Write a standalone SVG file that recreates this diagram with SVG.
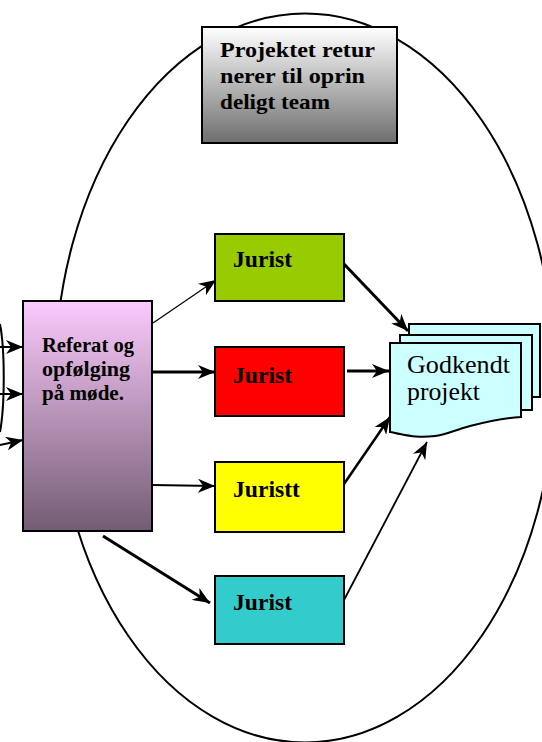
<svg xmlns="http://www.w3.org/2000/svg" width="542" height="742" viewBox="0 0 542 742">
<style>
.box{stroke:#000;stroke-width:2}
.t{font-family:"Liberation Serif","Times New Roman",serif;font-weight:bold;fill:#000}
.r{font-family:"Liberation Serif","Times New Roman",serif;fill:#000}
.c{fill:none;stroke:#000}
</style>
<defs>
<linearGradient id="gGray" x1="0" y1="0" x2="0" y2="1">
<stop offset="0" stop-color="#ffffff"/><stop offset="1" stop-color="#6e6e6e"/>
</linearGradient>
<linearGradient id="gPink" x1="0" y1="0" x2="0" y2="1">
<stop offset="0" stop-color="#fbcafd"/><stop offset="1" stop-color="#735c73"/>
</linearGradient>
<marker id="ah" markerUnits="userSpaceOnUse" markerWidth="18" markerHeight="14" refX="17" refY="7" orient="auto">
<path d="M0,0 L17,7 L0,14 L5,7 Z" fill="#000"/>
</marker>
</defs>
<ellipse cx="305" cy="378" rx="250" ry="364.5" fill="none" stroke="#000" stroke-width="2"/>
<path d="M0,324 C5,350 5,405 0,432" fill="none" stroke="#000" stroke-width="2"/>
<g id="connectors">
<line class="c" x1="0" y1="347" x2="23" y2="347" stroke-width="2" marker-end="url(#ah)"/>
<line class="c" x1="0" y1="394" x2="23" y2="394" stroke-width="2" marker-end="url(#ah)"/>
<line class="c" x1="0" y1="445" x2="23" y2="440" stroke-width="2" marker-end="url(#ah)"/>
<line class="c" x1="153" y1="323" x2="216" y2="280" stroke-width="1.2" marker-end="url(#ah)"/>
<line class="c" x1="152" y1="372" x2="215" y2="372" stroke-width="3" marker-end="url(#ah)"/>
<line class="c" x1="152" y1="485" x2="215" y2="486" stroke-width="2" marker-end="url(#ah)"/>
<line class="c" x1="103" y1="536" x2="210" y2="603" stroke-width="3" marker-end="url(#ah)"/>
<line class="c" x1="344" y1="264" x2="408" y2="331" stroke-width="3" marker-end="url(#ah)"/>
<line class="c" x1="347" y1="371" x2="389" y2="371" stroke-width="3" marker-end="url(#ah)"/>
<line class="c" x1="344" y1="484" x2="390" y2="417" stroke-width="2.5" marker-end="url(#ah)"/>
<line class="c" x1="344" y1="600" x2="427" y2="442" stroke-width="1.8" marker-end="url(#ah)"/>
</g>
<g id="node-retur">
<rect class="box" x="202" y="27" width="195" height="116" fill="url(#gGray)"/>
<text class="t" font-size="22" x="220" y="57" textLength="155" lengthAdjust="spacingAndGlyphs">Projektet retur</text>
<text class="t" font-size="22" x="220" y="83" textLength="145" lengthAdjust="spacingAndGlyphs">nerer til oprin</text>
<text class="t" font-size="22" x="220" y="109" textLength="110" lengthAdjust="spacingAndGlyphs">deligt team</text>
</g>
<g id="node-referat">
<rect class="box" x="23" y="301" width="129" height="230" fill="url(#gPink)"/>
<text class="t" font-size="21" x="42" y="352" textLength="92" lengthAdjust="spacingAndGlyphs">Referat og</text>
<text class="t" font-size="21" x="42" y="376" textLength="88" lengthAdjust="spacingAndGlyphs">opfølging</text>
<text class="t" font-size="21" x="42" y="400" textLength="82" lengthAdjust="spacingAndGlyphs">på møde.</text>
</g>
<g id="node-jurist1">
<rect class="box" x="215" y="234" width="129" height="67" fill="#99cc00"/>
<text class="t" font-size="23" x="233" y="267" textLength="59" lengthAdjust="spacingAndGlyphs">Jurist</text>
</g>
<g id="node-jurist2">
<rect class="box" x="215" y="347" width="129" height="69" fill="#ff0000"/>
<text class="t" font-size="23" x="233" y="383" textLength="59" lengthAdjust="spacingAndGlyphs">Jurist</text>
</g>
<g id="node-jurist3">
<rect class="box" x="215" y="462" width="129" height="70" fill="#ffff00"/>
<text class="t" font-size="23" x="233" y="497" textLength="67" lengthAdjust="spacingAndGlyphs">Juristt</text>
</g>
<g id="node-jurist4">
<rect class="box" x="215" y="576" width="129" height="68" fill="#33cccc"/>
<text class="t" font-size="23" x="233" y="610" textLength="59" lengthAdjust="spacingAndGlyphs">Jurist</text>
</g>
<g id="node-godkendt">
<rect class="box" x="409" y="324" width="131" height="73" fill="#ccffff"/>
<rect class="box" x="400" y="335" width="132" height="75" fill="#ccffff"/>
<path class="box" fill="#ccffff" d="M390,343 H521 V417 C505,418 490,421 470,426 C455,430 445,435 435,436 C420,438 410,436 400,434 C395,433 392,432 390,432 Z"/>
<text class="r" font-size="25" x="407" y="373" textLength="103" lengthAdjust="spacingAndGlyphs">Godkendt</text>
<text class="r" font-size="25" x="407" y="400" textLength="73" lengthAdjust="spacingAndGlyphs">projekt</text>
</g>
</svg>
